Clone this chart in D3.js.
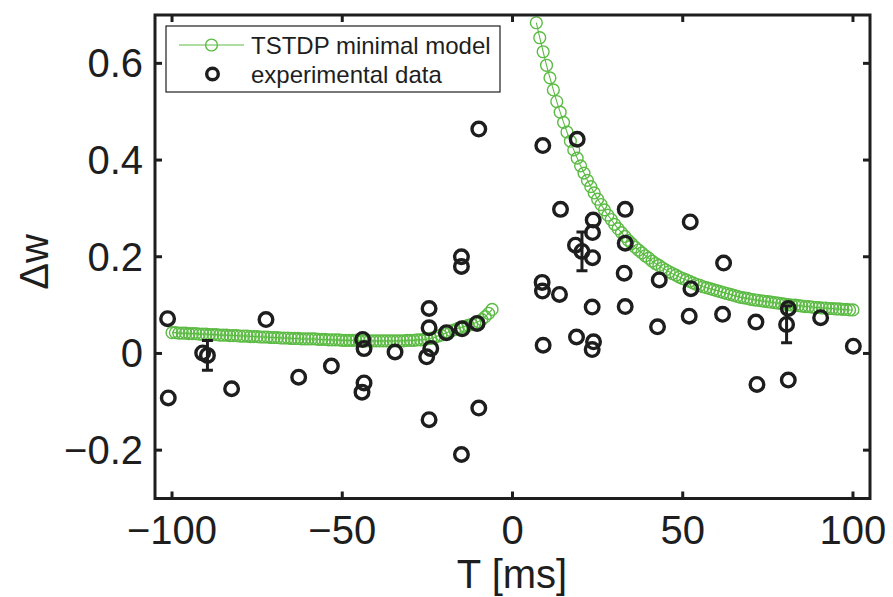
<!DOCTYPE html>
<html><head><meta charset="utf-8">
<script src="https://cdn.jsdelivr.net/npm/d3@7"></script>
<style>body{margin:0;background:#fff}svg{display:block}</style>
</head><body>
<svg id="c" width="893" height="597"></svg>
<script>
// Model curve (TSTDP minimal model), LTD branch T=-100..-6 ms, LTP branch T=7..100 ms
const modelLtdT = d3.range(-100, -5);
const modelLtdW = [
 .043,.043,.042,.042,.042,.041,.041,.041,.040,.040,
 .040,.039,.039,.039,.038,.038,.038,.037,.037,.037,
 .036,.036,.036,.035,.035,.035,.034,.034,.034,.033,
 .033,.033,.032,.032,.032,.031,.031,.031,.030,.030,
 .030,.030,.030,.029,.029,.029,.028,.028,.028,.028,
 .027,.027,.027,.027,.027,.026,.026,.026,.026,.026,
 .026,.026,.026,.026,.026,.026,.026,.026,.026,.027,
 .027,.027,.028,.028,.029,.030,.031,.033,.036,.038,
 .041,.044,.047,.049,.052,.054,.056,.058,.060,.063,
 .066,.070,.076,.083,.091];
const modelLtpT = d3.range(7, 101);
const modelLtpW = [
 .684,.653,.624,.596,.570,.545,.521,.499,.478,.458,
 .439,.421,.404,.388,.373,.358,.345,.332,.319,.308,
 .297,.286,.277,.267,.258,.250,.242,.234,.227,.220,
 .214,.208,.202,.197,.191,.186,.182,.177,.173,.169,
 .165,.162,.158,.155,.152,.149,.146,.143,.141,.138,
 .136,.134,.132,.130,.128,.126,.124,.122,.120,.118,
 .116,.115,.114,.112,.111,.110,.109,.108,.107,.106,
 .105,.104,.103,.102,.101,.100,.100,.099,.098,.097,
 .097,.096,.095,.095,.094,.094,.093,.093,.092,.092,
 .091,.091,.090,.090];

// Experimental data
const expT = [-101.3,-101.1,-91.0,-89.6,-82.5,-72.4,-62.8,-53.2,-44.0,-43.6,-43.6,-44.2,-34.5,
  -24.5,-24.5,-24.0,-25.2,-24.5,-19.4,-15.0,-15.0,-14.8,-15.0,-10.4,-9.9,-9.9,
  8.9,19.0,14.1,33.1,52.2,23.7,23.5,18.5,20.4,33.1,62.0,23.5,8.7,8.8,13.8,32.8,43.1,52.4,
  23.4,33.1,42.6,51.9,61.7,71.5,81.0,80.5,90.5,100.1,9.0,18.8,23.8,23.4,71.8,81.0];
const expW = [0.072,-0.092,0.001,-0.004,-0.073,0.070,-0.049,-0.026,0.029,0.010,-0.061,-0.080,0.003,
  0.093,0.053,0.010,-0.007,-0.137,0.043,0.200,0.180,0.051,-0.209,0.062,-0.113,0.464,
  0.430,0.443,0.298,0.298,0.272,0.276,0.250,0.224,0.211,0.228,0.187,0.198,0.147,0.129,0.122,0.166,0.152,0.134,
  0.096,0.097,0.055,0.077,0.081,0.065,0.093,0.060,0.074,0.015,0.017,0.034,0.024,0.008,-0.064,-0.055];

// Error bars
const errT = [-89.6, 20.4, 80.5];
const errW = [-0.004, 0.211, 0.060];
const errE = [0.031, 0.040, 0.038];

const xTicks = [-100,-50,0,50,100];
const xTickLabels = ["\u2212100","\u221250","0","50","100"];
const yTicks = [-0.2,0,0.2,0.4,0.6];
const yTickLabels = ["\u22120.2","0","0.2","0.4","0.6"];

const legendLabels = ["TSTDP minimal model","experimental data"];

const green = "#5cbb44", dark = "#1e1e1e";
const svg = d3.select("#c");
const L=155, R=870, T=15, B=498.5;
const x = d3.scaleLinear().domain([-105,105]).range([L,R]);
const y = d3.scaleLinear().domain([-0.3,0.7]).range([B,T]);

const plot = svg.append("g");
svg.append("clipPath").attr("id","cp").append("rect")
  .attr("x",L).attr("y",T).attr("width",R-L).attr("height",B-T);
const g = plot.append("g").attr("clip-path","url(#cp)");

// model curves
const line = d3.line().x(d=>x(d[0])).y(d=>y(d[1]));
const ltd = modelLtdT.map((t,i)=>[t,modelLtdW[i]]);
const ltp = modelLtpT.map((t,i)=>[t,modelLtpW[i]]);
[ltd,ltp].forEach(arr=>{
  g.append("path").datum(arr).attr("d",line).attr("fill","none").attr("stroke",green).attr("stroke-width",1.1);
  g.selectAll(null).data(arr).enter().append("circle")
    .attr("cx",d=>x(d[0])).attr("cy",d=>y(d[1])).attr("r",5.9)
    .attr("fill","none").attr("stroke",green).attr("stroke-width",1.4);
});

// error bars
errT.forEach((t,i)=>{
  const cx=x(t), y1=y(errW[i]+errE[i]), y2=y(errW[i]-errE[i]);
  g.append("line").attr("x1",cx).attr("x2",cx).attr("y1",y1).attr("y2",y2).attr("stroke",dark).attr("stroke-width",3);
  [y1,y2].forEach(yy=>g.append("line").attr("x1",cx-5.5).attr("x2",cx+5.5).attr("y1",yy).attr("y2",yy).attr("stroke",dark).attr("stroke-width",3));
});

// experimental circles
g.selectAll(null).data(expT.map((t,i)=>[t,expW[i]])).enter().append("circle")
  .attr("cx",d=>x(d[0])).attr("cy",d=>y(d[1])).attr("r",6.8)
  .attr("fill","none").attr("stroke",dark).attr("stroke-width",3.4);

// frame & ticks
const ax = svg.append("g");
const tl = 7;
xTicks.forEach(v=>{
  ax.append("line").attr("x1",x(v)).attr("x2",x(v)).attr("y1",B).attr("y2",B-tl).attr("stroke",dark).attr("stroke-width",3);
  ax.append("line").attr("x1",x(v)).attr("x2",x(v)).attr("y1",T).attr("y2",T+tl).attr("stroke",dark).attr("stroke-width",3);
});
yTicks.forEach(v=>{
  ax.append("line").attr("x1",L).attr("x2",L+tl).attr("y1",y(v)).attr("y2",y(v)).attr("stroke",dark).attr("stroke-width",3);
  ax.append("line").attr("x1",R).attr("x2",R-tl).attr("y1",y(v)).attr("y2",y(v)).attr("stroke",dark).attr("stroke-width",3);
});
ax.append("rect").attr("x",L).attr("y",T).attr("width",R-L).attr("height",B-T)
  .attr("fill","none").attr("stroke",dark).attr("stroke-width",3);

const font = "'Liberation Sans', Arial, sans-serif";
xTicks.forEach((v,i)=>{
  ax.append("text").attr("x",x(v)).attr("y",544).attr("text-anchor","middle")
    .attr("font-family",font).attr("font-size",40).attr("fill",dark).text(xTickLabels[i]);
});
yTicks.forEach((v,i)=>{
  ax.append("text").attr("x",143).attr("y",y(v)+14).attr("text-anchor","end")
    .attr("font-family",font).attr("font-size",40).attr("fill",dark).text(yTickLabels[i]);
});
svg.append("text").attr("x",512).attr("y",588).attr("text-anchor","middle")
  .attr("font-family",font).attr("font-size",40).attr("fill",dark).text("T [ms]");
svg.append("text").attr("transform","translate(48,262) rotate(-90)").attr("text-anchor","middle")
  .attr("font-family",font).attr("font-size",40).attr("fill",dark).text("\u0394w");

// legend
const lg = svg.append("g");
lg.append("rect").attr("x",166).attr("y",26).attr("width",334).attr("height",66)
  .attr("fill","#fff").attr("stroke",dark).attr("stroke-width",1.2);
lg.append("line").attr("x1",179).attr("x2",244).attr("y1",45).attr("y2",45).attr("stroke",green).attr("stroke-width",1.2);
lg.append("circle").attr("cx",211.5).attr("cy",45).attr("r",5.9).attr("fill","none").attr("stroke",green).attr("stroke-width",1.4);
lg.append("circle").attr("cx",212.5).attr("cy",74).attr("r",5.8).attr("fill","none").attr("stroke",dark).attr("stroke-width",3.4);
legendLabels.forEach((t,i)=>{
  lg.append("text").attr("x",251).attr("y",54+i*29).attr("font-family",font).attr("font-size",24)
    .attr("fill",dark).text(t);
});
</script>
</body></html>
